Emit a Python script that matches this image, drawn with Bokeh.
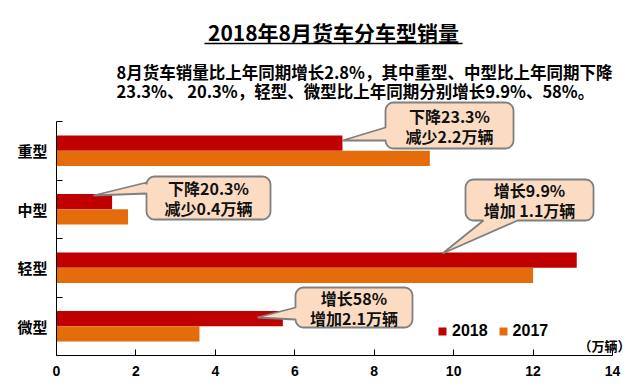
import numpy as np
from bokeh.plotting import figure
from bokeh.models import (ColumnDataSource, Range1d, FixedTicker, Legend, LegendItem)
from bokeh.core.properties import value
from bokeh.embed import file_html
from bokeh.resources import INLINE

# ---------------- data ----------------
categories = ["重型", "中型", "轻型", "微型"]
sales_2018 = [7.2, 1.4, 13.1, 5.7]
sales_2017 = [9.4, 1.8, 12.0, 3.6]
series_names = ["2018", "2017"]
x_ticks = [0, 2, 4, 6, 8, 10, 12, 14]
callout_texts = [
    ["下降23.3%", "减少2.2万辆"],
    ["下降20.3%", "减少0.4万辆"],
    ["增长9.9%", "增加 1.1万辆"],
    ["增长58%", "增加2.1万辆"],
]
title_text = "2018年8月货车分车型销量"
subtitle_lines = ["8月货车销量比上年同期增长2.8%，其中重型、中型比上年同期下降",
                  "23.3%、 20.3%，轻型、微型比上年同期分别增长9.9%、58%。"]
unit_text = "（万辆）"

# ---------------- layout helpers (page pixels -> data) ----------------
W, H = 640, 386
X0, X1 = 56.0, 612.0          # page x of value 0 and 14
Y0, Y4 = 355.0, 121.0         # page y of category-band bottom (0) and top (4)
PXX = (X1 - X0) / 14.0
PXY = (Y0 - Y4) / 4.0
FRAME_TOP = 12.0
FRAME_RIGHT = 636.0

def dx(px):
    return (px - X0) / PXX

def dy(py):
    return (Y0 - py) / PXY

n = len(categories)
ypos = [n - 0.5 - i for i in range(n)]   # 重型 on top
BAR_H = 0.26

CJK = "Noto Sans CJK SC"
RED = "#C00000"
ORANGE = "#E46C0A"

p = figure(width=W, height=H, output_backend="svg", toolbar_location=None,
           x_range=Range1d(0, dx(FRAME_RIGHT)), y_range=Range1d(0, dy(FRAME_TOP)),
           min_border_left=int(X0), min_border_right=int(W - FRAME_RIGHT),
           min_border_top=int(FRAME_TOP), min_border_bottom=int(H - Y0))
p.outline_line_color = None
p.xgrid.visible = False
p.ygrid.visible = False
p.background_fill_color = "white"
p.border_fill_color = "white"

src = ColumnDataSource(dict(
    y18=[y + BAR_H / 2 for y in ypos],
    y17=[y - BAR_H / 2 for y in ypos],
    v18=sales_2018, v17=sales_2017))
r18 = p.hbar(y="y18", right="v18", left=0, height=BAR_H, source=src,
             fill_color=RED, line_color=None)
r17 = p.hbar(y="y17", right="v17", left=0, height=BAR_H, source=src,
             fill_color=ORANGE, line_color=None)

# x axis
xa = p.xaxis[0]
xa.ticker = FixedTicker(ticks=x_ticks)
xa.bounds = (x_ticks[0], x_ticks[-1])
xa.axis_line_color = "black"
xa.major_tick_in = 6
xa.major_tick_out = 0
xa.minor_tick_line_color = None
xa.major_tick_line_color = "black"
xa.major_label_text_font = "Liberation Sans"
xa.major_label_text_font_style = "bold"
xa.major_label_text_font_size = "14px"
xa.major_label_text_color = "black"
xa.major_label_standoff = 10

# y axis
ya = p.yaxis[0]
ya.ticker = FixedTicker(ticks=ypos, minor_ticks=[0, 1, 2, 3, 4])
ya.major_label_overrides = {y: c for y, c in zip(ypos, categories)}
ya.bounds = (0, 4)
ya.axis_line_color = "black"
ya.major_tick_in = 0
ya.major_tick_out = 0
ya.minor_tick_in = 6
ya.minor_tick_out = 0
ya.minor_tick_line_color = "black"
ya.major_label_text_font = CJK
ya.major_label_text_font_style = "bold"
ya.major_label_text_font_size = "15px"
ya.major_label_text_color = "black"
ya.major_label_standoff = 9

# title + underline
p.text(x=[dx(333)], y=[dy(31)], text=[title_text], text_font=value(CJK),
       text_font_style="bold", text_font_size="21px", text_align="center",
       text_baseline="middle", text_color="black")
p.segment(x0=[dx(204)], y0=[dy(43)], x1=[dx(462)], y1=[dy(43)],
          line_color="black", line_width=1.5)

# subtitle
p.text(x=[dx(116)] * 2, y=[dy(71), dy(90)], text=subtitle_lines, text_font=value(CJK),
       text_font_style="bold", text_font_size="16.5px", text_align="left",
       text_baseline="middle", text_color="black")

# callouts (box l, t, r, b ; tip ; wedge side ; wedge base)
callout_geo = [
    dict(box=(385, 102, 513, 148), tip=(342, 140), side="left", base=(127, 140)),
    dict(box=(146, 176, 270, 219), tip=(93, 195), side="left", base=(182, 193)),
    dict(box=(465, 179, 593, 220), tip=(442, 253), side="bottom", base=(483, 517)),
    dict(box=(295, 287, 412, 327), tip=(257, 317), side="left", base=(307, 319)),
]

def callout_shape(box, tip, side, base, rad=8, k=6):
    l, t, r, b = box
    pts = []
    def arc(cx, cy, a0, a1):
        for a in np.linspace(np.radians(a0), np.radians(a1), k):
            pts.append((cx + rad * np.cos(a), cy + rad * np.sin(a)))
    arc(r - rad, t + rad, -90, 0)
    arc(r - rad, b - rad, 0, 90)
    if side == "bottom":
        pts.append((base[1], b)); pts.append(tip); pts.append((base[0], b))
    arc(l + rad, b - rad, 90, 180)
    if side == "left":
        pts.append((l, base[1])); pts.append(tip); pts.append((l, base[0]))
    arc(l + rad, t + rad, 180, 270)
    xs = [dx(x) for x, _ in pts]
    ys = [dy(y) for _, y in pts]
    return xs, ys

for geo, lines in zip(callout_geo, callout_texts):
    xs, ys = callout_shape(**geo)
    p.patch(xs, ys, fill_color="#FBDCC3", line_color="#7F7F7F", line_width=1.8)
    l, t, r, b = geo["box"]
    cx = (l + r) / 2
    cy = (t + b) / 2
    p.text(x=[dx(cx)] * 2, y=[dy(cy - 10), dy(cy + 10)], text=lines,
           text_font=value(CJK), text_font_style="bold", text_font_size="16px",
           text_align="center", text_baseline="middle", text_color="#111111")

# unit label
p.text(x=[dx(630)], y=[dy(345)], text=[unit_text], text_font=value(CJK),
       text_font_style="bold", text_font_size="13px", text_align="right",
       text_baseline="middle", text_color="black")

# legend
legend = Legend(items=[LegendItem(label=series_names[0], renderers=[r18]),
                       LegendItem(label=series_names[1], renderers=[r17])],
                orientation="horizontal", location=(381, 15),
                background_fill_alpha=0, border_line_alpha=0,
                glyph_width=10, glyph_height=10, label_standoff=5, spacing=10,
                padding=0, margin=0,
                label_text_font="Liberation Sans", label_text_font_style="bold",
                label_text_font_size="16px", label_text_color="black")
p.add_layout(legend)

open("out.html", "w").write(file_html(p, INLINE))
